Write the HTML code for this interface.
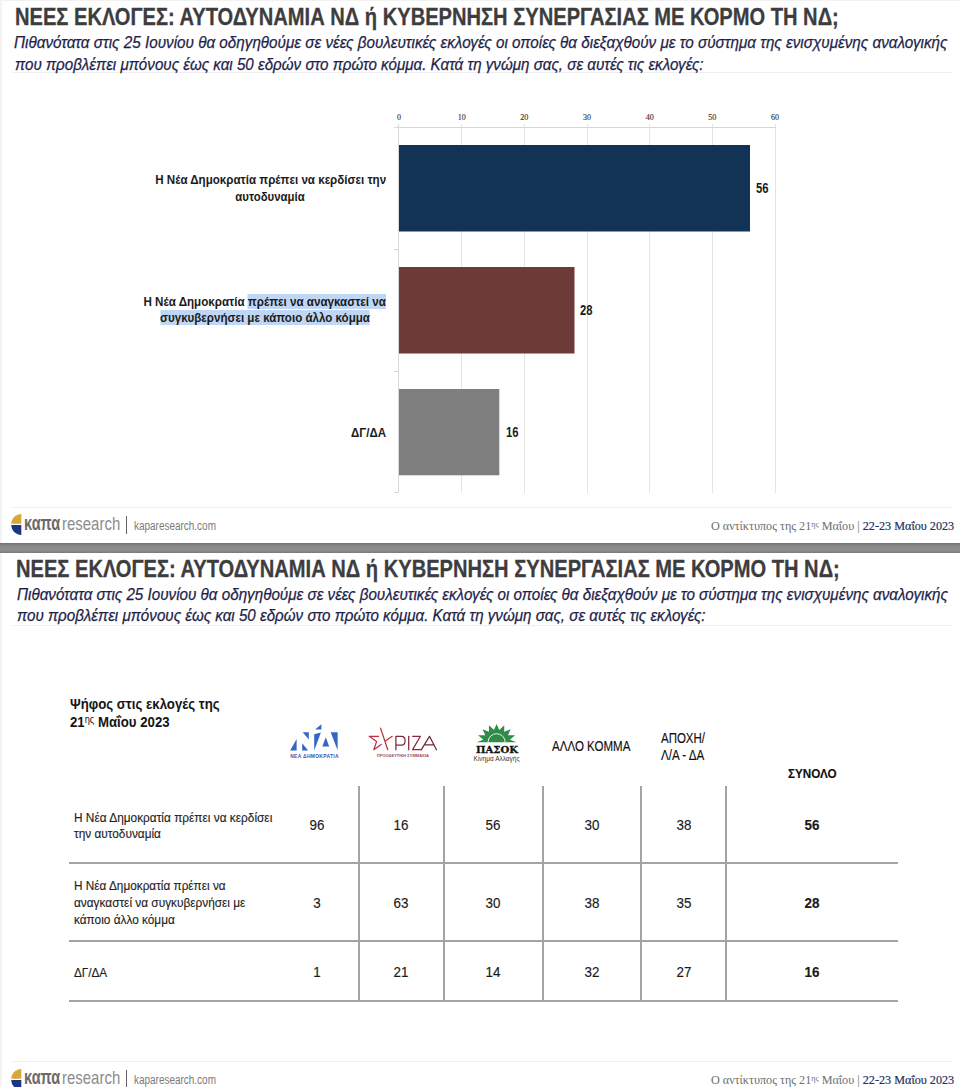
<!DOCTYPE html>
<html lang="el">
<head>
<meta charset="utf-8">
<title>ΝΕΕΣ ΕΚΛΟΓΕΣ: ΑΥΤΟΔΥΝΑΜΙΑ ΝΔ ή ΚΥΒΕΡΝΗΣΗ ΣΥΝΕΡΓΑΣΙΑΣ ΜΕ ΚΟΡΜΟ ΤΗ ΝΔ;</title>
<style>
html,body{margin:0;padding:0;background:#fff;}
body{width:960px;height:1087px;overflow:hidden;position:relative;font-family:"Liberation Sans","Noto Sans CJK SC",sans-serif;}
.t{position:absolute;white-space:pre;line-height:1;transform-origin:0 0;}
.r{transform-origin:100% 0;text-align:right;}
.c{transform-origin:50% 0;text-align:center;}
.slide{position:absolute;left:0;width:960px;background:#fff;}
.title{font-size:24px;font-weight:700;color:#3d3d40;-webkit-text-stroke:0.3px #3d3d40;}
.sub{font-size:17px;font-style:italic;color:#1d1e4a;-webkit-text-stroke:0.25px #1d1e4a;}
.hl{position:absolute;left:12px;width:940px;height:1px;background:#efeff1;}
.lbl{font-size:13.5px;font-weight:700;color:#1b1b1b;}
.val{font-size:14.8px;font-weight:700;color:#1b1b1b;}
.ax{font-family:"Liberation Serif",serif;font-size:8px;color:#555;}
.grid{position:absolute;width:1px;background:#dcdcdc;}
.bar{position:absolute;}
.band{position:absolute;left:0;width:960px;top:543px;height:10px;background:linear-gradient(#707070,#8a8a8a 30%,#909090 70%,#7a7a7a);}
.foot-r{font-family:"Liberation Serif",serif;font-size:13px;color:#6e6e6e;}
.foot-r b{font-weight:400;color:#25305e;-webkit-text-stroke:0.2px #25305e;}
.th{font-size:13.8px;color:#111;-webkit-text-stroke:0.15px #111;}
.td{font-size:14.1px;color:#1a1a1a;transform:scaleX(0.95);-webkit-text-stroke:0.15px #1a1a1a;}
.tdl{font-size:13.5px;color:#1e1e1e;-webkit-text-stroke:0.15px #1e1e1e;}
.tl{position:absolute;background:#a3a3a3;}
</style>
</head>
<body>
<!-- ================= SLIDE 1 ================= -->
<div class="slide" style="top:0;height:543px;">
  <div class="hl" style="top:71.5px"></div>
  <div class="hl" style="top:506.5px"></div>
  <div class="t title" style="left:14.5px;top:4.5px;transform:scaleX(0.838)">ΝΕΕΣ ΕΚΛΟΓΕΣ: ΑΥΤΟΔΥΝΑΜΙΑ ΝΔ ή ΚΥΒΕΡΝΗΣΗ ΣΥΝΕΡΓΑΣΙΑΣ ΜΕ ΚΟΡΜΟ ΤΗ ΝΔ;</div>
  <div class="t sub" style="left:14px;top:33.6px;transform:scaleX(0.897)">Πιθανότατα στις 25 Ιουνίου θα οδηγηθούμε σε νέες βουλευτικές εκλογές οι οποίες θα διεξαχθούν με το σύστημα της ενισχυμένης αναλογικής</div>
  <div class="t sub" style="left:14.5px;top:55.6px;transform:scaleX(0.892)">που προβλέπει μπόνους έως και 50 εδρών στο πρώτο κόμμα. Κατά τη γνώμη σας, σε αυτές τις εκλογές:</div>
  <!-- chart -->
  <svg style="position:absolute;left:0;top:0" width="960" height="543" viewBox="0 0 960 543">
    <g stroke="#e4e4e4" stroke-width="1" shape-rendering="crispEdges">
      <line x1="461.5" y1="124" x2="461.5" y2="493"/>
      <line x1="524.5" y1="124" x2="524.5" y2="493"/>
      <line x1="587.5" y1="124" x2="587.5" y2="493"/>
      <line x1="649.5" y1="124" x2="649.5" y2="493"/>
      <line x1="712.5" y1="124" x2="712.5" y2="493"/>
      <line x1="775.5" y1="124" x2="775.5" y2="493"/>
    </g>
    <g stroke="#d8d8d8" stroke-width="1" shape-rendering="crispEdges">
      <line x1="394" y1="127.5" x2="776" y2="127.5"/>
      <line x1="398.5" y1="124" x2="398.5" y2="493"/>
      <line x1="394" y1="249.5" x2="399" y2="249.5"/>
      <line x1="394" y1="371.5" x2="399" y2="371.5"/>
      <line x1="394" y1="492.5" x2="399" y2="492.5"/>
    </g>
    <rect x="399" y="145" width="351" height="86.5" fill="#123356"/>
    <rect x="399" y="267" width="175.5" height="86.5" fill="#6c3a37"/>
    <rect x="399" y="389" width="100.3" height="86.3" fill="#7f7f7f"/>
    <g font-family="Liberation Serif, serif" font-size="8" fill="#3a3a3a" stroke="#3a3a3a" stroke-width="0.15" text-anchor="middle">
      <text x="399" y="120">0</text>
      <text x="461.7" y="120">10</text>
      <text x="524.3" y="120">20</text>
      <text x="587" y="120">30</text>
      <text x="649.7" y="120">40</text>
      <text x="712.3" y="120">50</text>
      <text x="775" y="120">60</text>
    </g>
  </svg>
  <div class="t lbl r" style="right:574px;top:173px;transform:scaleX(0.858)">Η Νέα Δημοκρατία πρέπει να κερδίσει την</div>
  <div class="t lbl c" style="left:120px;width:300px;top:190.1px;transform:scaleX(0.844)">αυτοδυναμία</div>
  <div class="t lbl r" style="right:574px;top:295.3px;transform:scaleX(0.86)">Η Νέα Δημοκρατία <span style="background:#bfd7f5">πρέπει να αναγκαστεί να</span></div>
  <div class="t lbl c" style="left:115px;width:300px;top:311px;transform:scaleX(0.857)"><span style="background:#bfd7f5">συγκυβερνήσει με κάποιο άλλο κόμμα</span></div>
  <div class="t lbl r" style="right:574px;top:425.5px;transform:scaleX(0.853)">ΔΓ/ΔΑ</div>
  <div class="t val" style="left:756px;top:181.3px;transform:scaleX(0.76)">56</div>
  <div class="t val" style="left:580px;top:303.1px;transform:scaleX(0.76)">28</div>
  <div class="t val" style="left:505.5px;top:424.7px;transform:scaleX(0.76)">16</div>
  <!-- footer -->
  <svg style="position:absolute;left:11px;top:514px" width="11" height="21" viewBox="0 0 11 21">
    <path d="M10.3 0 L10.3 9.8 L0.3 9.8 C0.3 4.5 4.5 0.3 10.3 0 Z" fill="#d6a937"/>
    <path d="M10.3 11 L10.3 21 C4.5 20.6 0.3 16.5 0.3 11 Z" fill="#1d3586"/>
  </svg>
  <div class="t" style="left:24px;top:513px;font-size:20px;font-weight:700;color:#6a6a6a;transform:scaleX(0.728)">καπα</div>
  <div class="t" style="left:62px;top:514.3px;font-size:20px;color:#8c8c8c;transform:scale(0.748,0.95)">research</div>
  <div style="position:absolute;left:126px;top:516px;width:1.3px;height:17.5px;background:#666"></div>
  <div class="t" style="left:133.5px;top:519.8px;font-size:12px;color:#7a7a7a;transform:scaleX(0.83)">kaparesearch.com</div>
  <div class="t foot-r" style="left:710.5px;top:519.4px;transform:scaleX(0.936)">Ο αντίκτυπος της 21<span style="font-size:8.5px;vertical-align:3.5px;line-height:0">ης</span> Μαΐου | <b>22-23 Μαΐου 2023</b></div>
</div>
<div class="band"></div>
<div style="position:absolute;left:0;top:0;width:960px;height:1px;background:#f2f2f2"></div>
<div style="position:absolute;left:0;top:0;width:2px;height:543px;background:#f4f4f4"></div>
<div style="position:absolute;left:0;top:553px;width:2px;height:534px;background:#f4f4f4"></div>
<!-- ================= SLIDE 2 ================= -->
<div class="slide" style="top:0;height:0;">
  <div class="hl" style="top:625px"></div>
  <div class="hl" style="top:1061px"></div>
  <div class="t title" style="left:16px;top:556.7px;transform:scaleX(0.838)">ΝΕΕΣ ΕΚΛΟΓΕΣ: ΑΥΤΟΔΥΝΑΜΙΑ ΝΔ ή ΚΥΒΕΡΝΗΣΗ ΣΥΝΕΡΓΑΣΙΑΣ ΜΕ ΚΟΡΜΟ ΤΗ ΝΔ;</div>
  <div class="t sub" style="left:17px;top:585.6px;transform:scaleX(0.8945)">Πιθανότατα στις 25 Ιουνίου θα οδηγηθούμε σε νέες βουλευτικές εκλογές οι οποίες θα διεξαχθούν με το σύστημα της ενισχυμένης αναλογικής</div>
  <div class="t sub" style="left:16.5px;top:607px;transform:scaleX(0.892)">που προβλέπει μπόνους έως και 50 εδρών στο πρώτο κόμμα. Κατά τη γνώμη σας, σε αυτές τις εκλογές:</div>
  <!-- table header -->
  <div class="t" style="left:70px;top:695.7px;font-size:15px;font-weight:700;color:#151515;transform:scaleX(0.881)">Ψήφος στις εκλογές της</div>
  <div class="t" style="left:70px;top:713.9px;font-size:15px;font-weight:700;color:#151515;transform:scaleX(0.881)">21<span style="font-size:10.5px;font-weight:400;vertical-align:4.5px;line-height:0">ης</span> Μαΐου 2023</div>
  <!-- party logos -->
  <svg style="position:absolute;left:280px;top:715px" width="250" height="55" viewBox="280 715 250 55">
    <g fill="#3466c6">
      <polygon points="290.2,750.6 296.6,738.9 296.6,750.6"/>
      <polygon points="302.7,732.2 308.8,732.2 308.8,739.6"/>
      <polygon points="302.2,743.2 302.2,750.6 308.1,750.6"/>
      <polygon points="315.1,729.6 321.4,724.2 321.4,729.6"/>
      <polygon points="314.2,734.2 320.9,732.5 314.2,750.5"/>
      <polygon points="322.3,746.5 325.8,737.2 329.2,746.5"/>
      <polygon points="330.7,732.3 337.6,732.3 337.6,750.3"/>
    </g>
    <text x="314.5" y="757.6" font-family="Liberation Sans, sans-serif" font-size="5" font-weight="700" fill="#3a5aa6" text-anchor="middle" textLength="48.5" letter-spacing="0.3" lengthAdjust="spacingAndGlyphs">ΝΕΑ ΔΗΜΟΚΡΑΤΙΑ</text>
    <g fill="none" stroke-width="1.25" stroke-linecap="round" stroke-linejoin="round">
      <path d="M378.6,736.3 L369.2,736.3 L376.6,741.6 L373.8,749.7 L381.2,744.4" stroke="#c0303e"/>
      <path d="M380.5,728.1 L387.8,749.7 M392.2,736.3 L385.3,740.9" stroke="#c0303e"/>
      <path d="M395.9,749.8 L395.9,736.3 L401.5,736.3 C406.3,736.3 406.3,745.1 401.5,745.1 L395.9,745.1" stroke="#7e2a3e"/>
      <path d="M408.7,736.3 L408.7,749.8" stroke="#7e2a3e"/>
      <path d="M412.6,736.3 L420.4,736.3 L412.6,749.6 L420.6,749.6" stroke="#8a2a3e"/>
      <path d="M421.2,749.8 L429.5,736.3 L436.5,749.8 M424.4,744.8 L433.8,744.8" stroke="#6e2a3e"/>
    </g>
    <text x="402.8" y="757.3" font-family="Liberation Sans, sans-serif" font-size="3.3" font-weight="700" fill="#9a4a5c" text-anchor="middle" textLength="52" lengthAdjust="spacingAndGlyphs">ΠΡΟΟΔΕΥΤΙΚΗ ΣΥΜΜΑΧΙΑ</text>
    <polygon fill="#2f8c48" points="476.60,742.30 483.26,739.84 478.12,735.26 485.29,735.30 482.46,729.29 489.04,731.82 488.95,725.30 493.95,729.94 496.60,723.90 499.25,729.94 504.25,725.30 504.16,731.82 510.74,729.29 507.91,735.30 515.08,735.26 509.94,739.84 516.60,742.30"/>
    <path d="M488,742.3 A8.6,8.6 0 0 1 505.2,742.3" fill="none" stroke="#e2f2e3" stroke-width="1"/>
    <text x="497" y="752.7" font-family="DejaVu Serif, serif" font-size="9.8" font-weight="700" fill="#111" stroke="#111" stroke-width="0.3" text-anchor="middle" textLength="41.9" lengthAdjust="spacingAndGlyphs">ΠΑΣΟΚ</text>
    <text x="496.6" y="760.8" font-family="Liberation Sans, sans-serif" font-size="6.4" fill="#333" text-anchor="middle" textLength="46" lengthAdjust="spacingAndGlyphs">Κίνημα Αλλαγής</text>
  </svg>
  <div class="t th" style="left:552.3px;top:740.2px;transform:scaleX(0.838)">ΑΛΛΟ ΚΟΜΜΑ</div>
  <div class="t th" style="left:661.3px;top:732.2px;transform:scaleX(0.832)">ΑΠΟΧΗ/</div>
  <div class="t th" style="left:661.3px;top:748.6px;transform:scaleX(0.842)">Λ/Α - ΔΑ</div>
  <div class="t th" style="left:788px;top:767.1px;font-size:13.4px;font-weight:700;transform:scaleX(0.873)">ΣΥΝΟΛΟ</div>
  <!-- grid -->
  <div class="tl" style="left:69px;top:862px;width:829px;height:2px"></div>
  <div class="tl" style="left:69px;top:940px;width:829px;height:2px"></div>
  <div class="tl" style="left:69px;top:1000px;width:829px;height:2px"></div>
  <div class="tl" style="left:357.5px;top:785.5px;width:2px;height:215px"></div>
  <div class="tl" style="left:442.5px;top:785.5px;width:2px;height:215px"></div>
  <div class="tl" style="left:542px;top:785.5px;width:2px;height:215px"></div>
  <div class="tl" style="left:639.8px;top:785.5px;width:2px;height:215px"></div>
  <div class="tl" style="left:725.2px;top:785.5px;width:2px;height:215px"></div>
  <!-- row labels -->
  <div class="t tdl" style="left:74.2px;top:810.6px;transform:scaleX(0.8784)">Η Νέα Δημοκρατία πρέπει να κερδίσει</div>
  <div class="t tdl" style="left:74.2px;top:827.3px;transform:scaleX(0.8763)">την αυτοδυναμία</div>
  <div class="t tdl" style="left:74.2px;top:879.4px;transform:scaleX(0.8730)">Η Νέα Δημοκρατία πρέπει να</div>
  <div class="t tdl" style="left:74.2px;top:895.9px;transform:scaleX(0.8768)">αναγκαστεί να συγκυβερνήσει με</div>
  <div class="t tdl" style="left:74.2px;top:912.6px;transform:scaleX(0.8758)">κάποιο άλλο κόμμα</div>
  <div class="t tdl" style="left:74.2px;top:965.5px;transform:scaleX(0.8668)">ΔΓ/ΔΑ</div>
  <!-- numbers -->
  <div class="t td c" style="left:277px;width:80px;top:818.2px">96</div>
  <div class="t td c" style="left:361px;width:80px;top:818.2px">16</div>
  <div class="t td c" style="left:453.25px;width:80px;top:818.2px">56</div>
  <div class="t td c" style="left:551.9px;width:80px;top:818.2px">30</div>
  <div class="t td c" style="left:643.5px;width:80px;top:818.2px">38</div>
  <div class="t td c" style="left:772.4px;width:80px;top:818.2px;font-weight:700">56</div>
  <div class="t td c" style="left:277px;width:80px;top:896.3px">3</div>
  <div class="t td c" style="left:361px;width:80px;top:896.3px">63</div>
  <div class="t td c" style="left:453.25px;width:80px;top:896.3px">30</div>
  <div class="t td c" style="left:551.9px;width:80px;top:896.3px">38</div>
  <div class="t td c" style="left:643.5px;width:80px;top:896.3px">35</div>
  <div class="t td c" style="left:772.4px;width:80px;top:896.3px;font-weight:700">28</div>
  <div class="t td c" style="left:277px;width:80px;top:965.1px">1</div>
  <div class="t td c" style="left:361px;width:80px;top:965.1px">21</div>
  <div class="t td c" style="left:453.25px;width:80px;top:965.1px">14</div>
  <div class="t td c" style="left:551.9px;width:80px;top:965.1px">32</div>
  <div class="t td c" style="left:643.5px;width:80px;top:965.1px">27</div>
  <div class="t td c" style="left:772.4px;width:80px;top:965.1px;font-weight:700">16</div>
  <!-- footer -->
  <svg style="position:absolute;left:11px;top:1068.8px" width="11" height="21" viewBox="0 0 11 21">
    <path d="M10.3 0 L10.3 9.8 L0.3 9.8 C0.3 4.5 4.5 0.3 10.3 0 Z" fill="#d6a937"/>
    <path d="M10.3 11 L10.3 21 C4.5 20.6 0.3 16.5 0.3 11 Z" fill="#1d3586"/>
  </svg>
  <div class="t" style="left:24px;top:1067px;font-size:20px;font-weight:700;color:#6a6a6a;transform:scaleX(0.728)">καπα</div>
  <div class="t" style="left:62px;top:1068.3px;font-size:20px;color:#8c8c8c;transform:scale(0.748,0.95)">research</div>
  <div style="position:absolute;left:126px;top:1070px;width:1.3px;height:17.5px;background:#666"></div>
  <div class="t" style="left:133.5px;top:1073.8px;font-size:12px;color:#7a7a7a;transform:scaleX(0.83)">kaparesearch.com</div>
  <div class="t foot-r" style="left:710.5px;top:1073.4px;transform:scaleX(0.936)">Ο αντίκτυπος της 21<span style="font-size:8.5px;vertical-align:3.5px;line-height:0">ης</span> Μαΐου | <b>22-23 Μαΐου 2023</b></div>
</div>
</body>
</html>
